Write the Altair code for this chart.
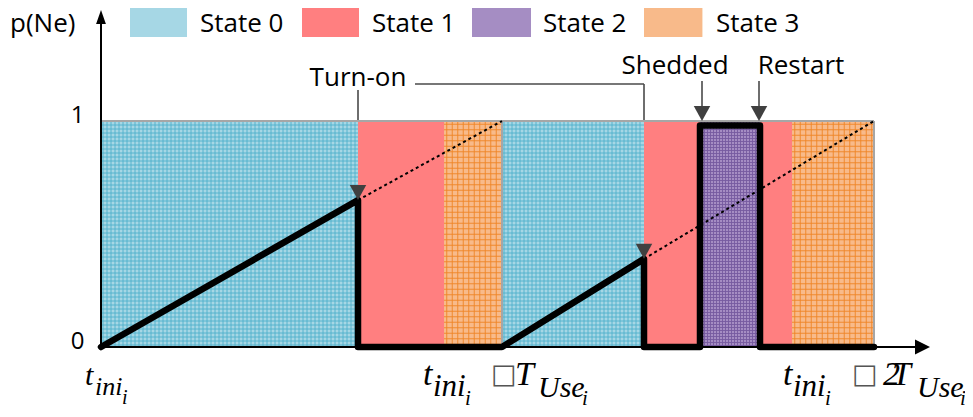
import altair as alt
import pandas as pd
import numpy as np

# ---------------- data ----------------
# time axis in arbitrary units, probability p(Ne) in 0..1
state_names = ["State 0", "State 1", "State 2", "State 3"]
state_fill = ["#a6d7e5", "#ff7f80", "#a58dc3", "#f8ba8a"]
state_hatch = ["#4fb0cb", None, "#765a9f", "#ee8426"]
state_step = [4.0, None, 3.0, 5.5]          # hatch spacing (px)

seg_state = [0, 1, 3, 0, 1, 2, 1, 3]
seg_start = [0, 257, 343, 401, 543, 599, 659, 691]
seg_end = [257, 343, 401, 543, 599, 659, 691, 773]

pne_t = [0, 257, 257, 401, 543, 543, 599, 599, 659, 659, 773]
pne_v = [0, 0.65, 0, 0, 0.39, 0, 0, 0.98, 0.98, 0, 0]

proj_t0 = [257, 543]
proj_v0 = [0.65, 0.39]
proj_t1 = [401, 773]
proj_v1 = [1.0, 1.0]

ann_text = ["Turn-on", "Shedded", "Restart"]
ann_x = [257, 574, 700]
ann_y = [1.155, 1.208, 1.208]
tip_x = [257, 543, 601, 658]
tip_y = [0.65, 0.39, 1.0, 1.0]

legend_x0 = [29, 201, 371, 543]
legend_x1 = [86, 258, 430, 601]
legend_tx = [99, 271, 442, 615]

tick_values = [0, 1]

# bottom time labels: pieces of t_ini_i, t_ini_i + T_Use_i, t_ini_i + 2T_Use_i
lab_text = ["t", "ini", "i",
            "t", "ini", "i", "T", "Use", "i",
            "t", "ini", "i", "2", "T", "Use", "i"]
lab_x = [-16, -6, 21,
         322, 332, 364, 414, 437, 481,
         682, 692, 724, 782, 791, 816, 859]
lab_y = [-0.168, -0.212, -0.252,
         -0.168, -0.217, -0.257, -0.168, -0.221, -0.257,
         -0.168, -0.217, -0.257, -0.168, -0.168, -0.221, -0.257]
lab_size = [30, 26, 20,
            34, 31, 21, 34, 30, 21,
            34, 31, 21, 34, 34, 30, 21]
box_x = [390, 751]
box_y = [-0.159, -0.159]

# ---------------- scales ----------------
W, H = 957, 401
X_DOM = [-93, 864]
Y_DOM = [-0.2743, 1.5]
PXY = H / (Y_DOM[1] - Y_DOM[0])  # pixels per y unit

XS = alt.Scale(domain=X_DOM, nice=False, zero=False)
YS = alt.Scale(domain=Y_DOM, nice=False, zero=False)
YAX = alt.Axis(values=tick_values, domain=False, ticks=False, grid=False,
               offset=-93, labelPadding=17, labelFontSize=24,
               labelFont="Open Sans", labelColor="black", labelOffset=-6,
               title=None)


def X(f):
    return alt.X(f, type="quantitative", scale=XS, axis=None)


def X2(f):
    return alt.X2(f)


def Y(f):
    return alt.Y(f, type="quantitative", scale=YS, axis=YAX)


def Y2(f):
    return alt.Y2(f)


# ---------------- tables ----------------
regions = pd.DataFrame({
    "x": seg_start, "x2": seg_end,
    "y": [0.0] * len(seg_start), "y2": [1.0] * len(seg_start),
    "fill": [state_fill[s] for s in seg_state],
})

legend_sw = pd.DataFrame({
    "x": legend_x0, "x2": legend_x1,
    "y": [1.372] * 4, "y2": [1.5] * 4,
    "fill": state_fill,
})


def hatch(x0, x1, y0, y1, step, color):
    rows = []
    for xv in np.arange(x0 + step / 2, x1, step):
        rows.append((xv, xv, y0, y1, color))
    ys = step / PXY
    for yv in np.arange(y0 + ys / 2, y1, ys):
        rows.append((x0, x1, yv, yv, color))
    return rows


hrows = []
for s, a, b in zip(seg_state, seg_start, seg_end):
    if state_hatch[s]:
        hrows += hatch(a, b, 0.0, 1.0, state_step[s], state_hatch[s])
for s in range(4):
    if state_hatch[s]:
        hrows += hatch(legend_x0[s], legend_x1[s], 1.372, 1.5,
                       state_step[s], state_hatch[s])
hatch_df = pd.DataFrame(hrows, columns=["x", "x2", "y", "y2", "c"])

pne = pd.DataFrame({"t": pne_t, "v": pne_v, "o": list(range(len(pne_t)))})
proj = pd.DataFrame({"x": proj_t0, "x2": proj_t1, "y": proj_v0, "y2": proj_v1})

frame = pd.DataFrame({"x": [0, 0, 401, 773], "x2": [773, 0, 401, 773],
                      "y": [1, 0, 0, 0], "y2": [1, 1, 1, 1]})

axes_df = pd.DataFrame({"x": [0, 0], "x2": [815, 0], "y": [0, 0], "y2": [0, 1.45]})

conn = pd.DataFrame({
    "x": [257, 314, 543, 601, 658],
    "x2": [257, 543, 543, 601, 658],
    "y": [1.137, 1.164, 1.164, 1.177, 1.177],
    "y2": [1.0, 1.164, 1.0, 1.066, 1.066],
})

heads = pd.DataFrame({"x": tip_x, "y": [v + 7.5 / PXY for v in tip_y]})

sans_left = pd.DataFrame({
    "x": [-91] + legend_tx,
    "y": [1.394] * 5,
    "text": ["p(Ne)"] + state_names,
})
sans_center = pd.DataFrame({"x": ann_x, "y": ann_y, "text": ann_text})
serif = pd.DataFrame({"x": lab_x, "y": lab_y, "text": lab_text, "s": lab_size})
boxes = pd.DataFrame({"x": box_x, "y": box_y, "text": ["\u25a1", "\u25a1"]})

# ---------------- layers ----------------
l_conn = alt.Chart(conn).mark_rule(color="#4a4a4a", strokeWidth=1.6).encode(
    x=X("x"), x2=X2("x2"), y=Y("y"), y2=Y2("y2"))

l_regions = alt.Chart(regions).mark_rect(strokeWidth=0).encode(
    x=X("x"), x2=X2("x2"), y=Y("y"), y2=Y2("y2"),
    color=alt.Color("fill:N", scale=None))

l_hatch = alt.Chart(hatch_df).mark_rule(strokeWidth=0.9, opacity=1).encode(
    x=X("x"), x2=X2("x2"), y=Y("y"), y2=Y2("y2"),
    color=alt.Color("c:N", scale=None))

l_frame = alt.Chart(frame).mark_rule(color="#a6a6a6", strokeWidth=2).encode(
    x=X("x"), x2=X2("x2"), y=Y("y"), y2=Y2("y2"))

l_proj = alt.Chart(proj).mark_rule(color="black", strokeWidth=2,
                                   strokeDash=[3, 3]).encode(
    x=X("x"), x2=X2("x2"), y=Y("y"), y2=Y2("y2"))

l_pne = alt.Chart(pne).mark_line(color="black", strokeWidth=6.5,
                                 strokeJoin="round", strokeCap="round").encode(
    x=X("t"), y=Y("v"), order="o:Q")

l_axes = alt.Chart(axes_df).mark_rule(color="black", strokeWidth=2).encode(
    x=X("x"), x2=X2("x2"), y=Y("y"), y2=Y2("y2"))

l_xarrow = alt.Chart(pd.DataFrame({"x": [821.5], "y": [0.0]})).mark_point(
    shape="M1,0L-1,-1L-1,1Z", filled=True, size=225, color="black",
    opacity=1, strokeWidth=0).encode(x=X("x"), y=Y("y"))

l_yarrow = alt.Chart(pd.DataFrame({"x": [0.0], "y": [1.46]})).mark_point(
    shape="M0,-1L0.7,1L-0.7,1Z", filled=True, size=196, color="black",
    opacity=1, strokeWidth=0).encode(x=X("x"), y=Y("y"))

l_heads = alt.Chart(heads).mark_point(
    shape="M0,1L-1.1,-1L1.1,-1Z", filled=True, size=225, color="#404040",
    opacity=1, strokeWidth=0).encode(x=X("x"), y=Y("y"))

l_legend = alt.Chart(legend_sw).mark_rect(strokeWidth=0).encode(
    x=X("x"), x2=X2("x2"), y=Y("y"), y2=Y2("y2"),
    color=alt.Color("fill:N", scale=None))

l_sans_left = alt.Chart(sans_left).mark_text(
    font="Open Sans", fontSize=26, align="left", baseline="alphabetic",
    color="black").encode(x=X("x"), y=Y("y"), text="text:N")

l_sans_center = alt.Chart(sans_center).mark_text(
    font="Open Sans", fontSize=26, align="center", baseline="alphabetic",
    color="black").encode(x=X("x"), y=Y("y"), text="text:N")

l_serif = alt.Chart(serif).mark_text(
    font="Liberation Serif", fontStyle="italic", align="left",
    baseline="alphabetic", color="black").encode(
    x=X("x"), y=Y("y"), text="text:N", size=alt.Size("s:Q", scale=None))

l_boxes = alt.Chart(boxes).mark_text(
    font="DejaVu Sans", fontSize=27, align="left", baseline="alphabetic",
    color="#555555").encode(x=X("x"), y=Y("y"), text="text:N")

chart = alt.layer(
    l_conn, l_regions, l_hatch, l_frame, l_proj, l_pne, l_axes,
    l_xarrow, l_yarrow, l_heads, l_legend, l_sans_left, l_sans_center,
    l_serif, l_boxes,
).properties(
    width=W, height=H, padding=0, autosize=alt.AutoSizeParams(type="none"),
    background="white",
).configure_view(stroke=None)

chart.save("out.html", embed_options={"renderer": "svg", "actions": False})
